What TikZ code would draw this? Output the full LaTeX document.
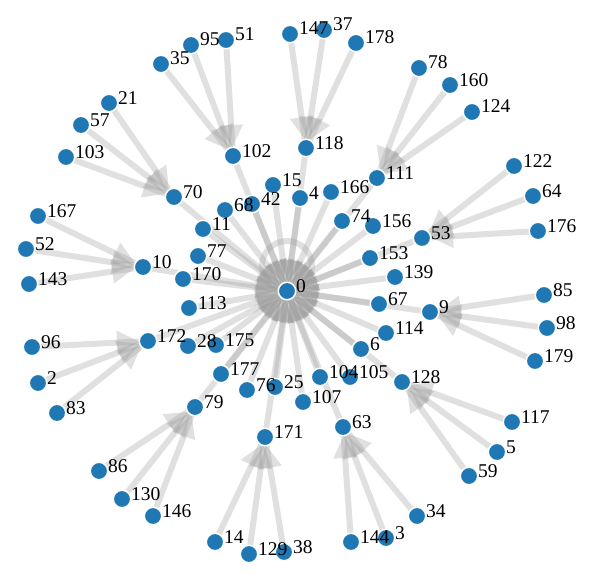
\documentclass[tikz,border=0pt]{standalone}
\usepackage{fontspec}
\newfontfamily\lbf{Liberation Serif}
\usetikzlibrary{arrows.meta,calc}
\pgfdeclarelayer{edges}
\pgfdeclarelayer{labels}
\pgfsetlayers{edges,main,labels}
\definecolor{dotblue}{RGB}{31,119,180}
\definecolor{edgegray}{RGB}{153,153,153}
\tikzset{
  dot/.style={circle,fill=dotblue,draw=white,line width=1.5pt,minimum size=17.5pt,inner sep=0pt},
  lbl/.style={anchor=base west,inner sep=0pt,font=\lbf\fontsize{19.5}{19.5}\selectfont},
  edgeline/.style={draw=edgegray,line width=6pt,draw opacity=0.3},
  edgetip/.style={draw=edgegray,line width=0.2pt,line cap=butt,opacity=0.3,
    -{Triangle[length=22pt,width=24pt,line width=0pt]}}
}
\newcommand\nd[3]{\node[dot] (n#1) at (#2,#3) {};
  \begin{pgfonlayer}{labels}\node[lbl] (l#1) at ([xshift=9pt,yshift=-1pt]n#1.center) {#1};\end{pgfonlayer}}
\newcommand\lnk[2]{\draw[edgeline] (n#1.center) -- (n#2.center);
  \draw[edgetip] ($(n#2.center)!31pt!(n#1.center)$) -- ($(n#2.center)!9pt!(n#1.center)$);}
\begin{document}
\begin{tikzpicture}[x=1pt,y=-1pt]
\useasboundingbox (0,0) rectangle (600,586);
% nodes
\nd{0}{287}{291}
\nd{35}{161}{64}
\nd{95}{191}{45}
\nd{51}{226}{40}
\nd{147}{290}{34}
\nd{37}{324}{30}
\nd{178}{356}{43}
\nd{78}{419}{68}
\nd{160}{450}{85}
\nd{124}{472}{112}
\nd{21}{109}{103}
\nd{57}{81}{125}
\nd{103}{66}{157}
\nd{102}{233}{156}
\nd{118}{306}{148}
\nd{111}{377}{178}
\nd{122}{514}{166}
\nd{64}{533}{196}
\nd{176}{538}{231}
\nd{53}{422}{238}
\nd{70}{174}{197}
\nd{42}{252}{204}
\nd{15}{273}{185}
\nd{68}{225}{210}
\nd{11}{203}{229}
\nd{4}{300}{198}
\nd{166}{331}{192}
\nd{74}{342}{221}
\nd{156}{373}{226}
\nd{153}{370}{258}
\nd{139}{395}{277}
\nd{67}{379}{304}
\nd{9}{430}{312}
\nd{85}{544}{295}
\nd{98}{547}{328}
\nd{179}{535}{361}
\nd{114}{386}{333}
\nd{6}{361}{349}
\nd{105}{350}{377}
\nd{104}{320}{377}
\nd{128}{402}{382}
\nd{107}{303}{402}
\nd{63}{343}{427}
\nd{117}{512}{422}
\nd{5}{497}{452}
\nd{59}{469}{476}
\nd{34}{417}{516}
\nd{144}{351}{542}
\nd{3}{386}{538}
\nd{25}{275}{387}
\nd{76}{247}{390}
\nd{171}{265}{437}
\nd{14}{215}{542}
\nd{129}{249}{554}
\nd{38}{284}{552}
\nd{177}{221}{374}
\nd{79}{195}{407}
\nd{86}{99}{471}
\nd{130}{122}{499}
\nd{146}{153}{516}
\nd{28}{188}{346}
\nd{175}{216}{345}
\nd{172}{148}{341}
\nd{113}{189}{308}
\nd{170}{183}{279}
\nd{77}{198}{256}
\nd{10}{143}{267}
\nd{167}{38}{216}
\nd{52}{26}{249}
\nd{143}{29}{284}
\nd{96}{32}{347}
\nd{2}{38}{383}
\nd{83}{57}{413}
% edges
\begin{pgfonlayer}{edges}
\draw[edgeline] (n0.center) arc[start angle=-90,delta angle=360,radius=25pt];
\lnk{35}{102}\lnk{95}{102}\lnk{51}{102}
\lnk{147}{118}\lnk{37}{118}\lnk{178}{118}
\lnk{78}{111}\lnk{160}{111}\lnk{124}{111}
\lnk{122}{53}\lnk{64}{53}\lnk{176}{53}
\lnk{85}{9}\lnk{98}{9}\lnk{179}{9}
\lnk{117}{128}\lnk{5}{128}\lnk{59}{128}
\lnk{34}{63}\lnk{3}{63}\lnk{144}{63}
\lnk{14}{171}\lnk{129}{171}\lnk{38}{171}
\lnk{86}{79}\lnk{130}{79}\lnk{146}{79}
\lnk{96}{172}\lnk{2}{172}\lnk{83}{172}
\lnk{167}{10}\lnk{52}{10}\lnk{143}{10}
\lnk{21}{70}\lnk{57}{70}\lnk{103}{70}
\lnk{102}{0}\lnk{118}{0}\lnk{111}{0}\lnk{53}{0}\lnk{9}{0}\lnk{128}{0}
\lnk{63}{0}\lnk{171}{0}\lnk{79}{0}\lnk{172}{0}\lnk{10}{0}\lnk{70}{0}
\lnk{15}{0}\lnk{4}{0}\lnk{166}{0}\lnk{74}{0}\lnk{156}{0}\lnk{153}{0}
\lnk{139}{0}\lnk{67}{0}\lnk{114}{0}\lnk{6}{0}\lnk{105}{0}\lnk{104}{0}
\lnk{107}{0}\lnk{25}{0}\lnk{76}{0}\lnk{177}{0}\lnk{175}{0}\lnk{28}{0}
\lnk{113}{0}\lnk{170}{0}\lnk{77}{0}\lnk{11}{0}\lnk{68}{0}\lnk{42}{0}
\end{pgfonlayer}
\end{tikzpicture}
\end{document}
